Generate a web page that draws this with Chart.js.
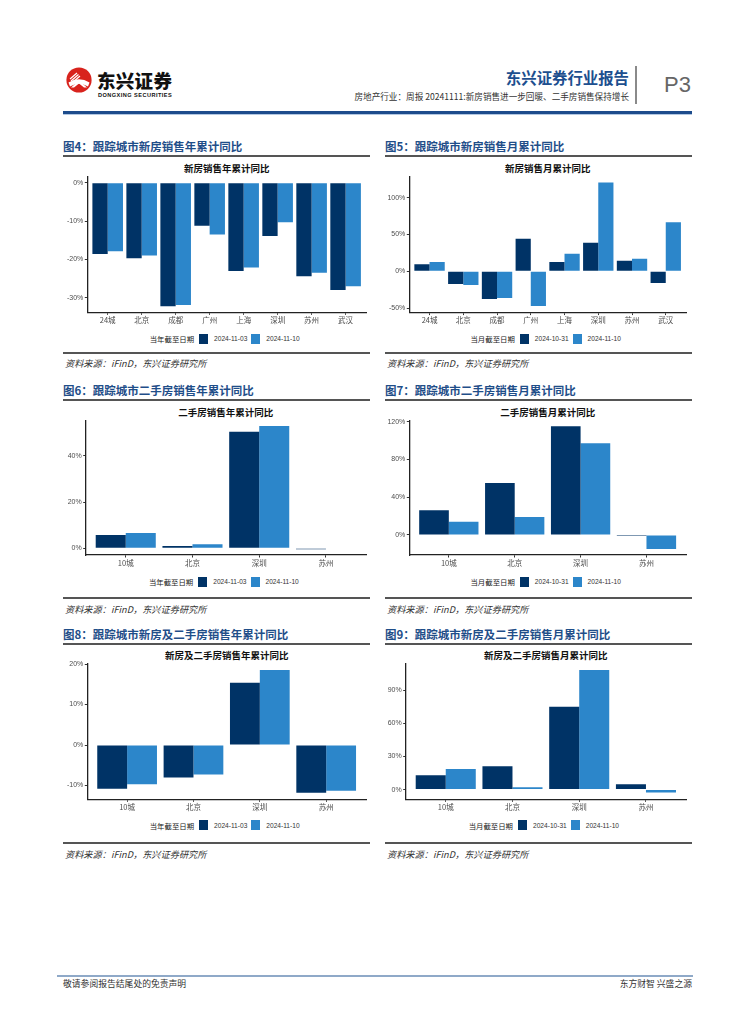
<!DOCTYPE html>
<html><head><meta charset="utf-8">
<script src="https://cdn.jsdelivr.net/npm/chart.js@4.4.1/dist/chart.umd.min.js"></script>
<style>
html,body{margin:0;padding:0;background:#fff}
body{width:755px;height:1024px;position:relative;overflow:hidden;font-family:"Noto Sans CJK SC","Noto Sans",sans-serif;color:#222}
.abs{position:absolute}
.figt{position:absolute;font-size:11.5px;font-weight:700;color:#1f4e89;white-space:nowrap;line-height:14px}
.rule{position:absolute;height:1.5px;background:#555}
.src{position:absolute;font-size:9.2px;font-style:italic;color:#333;white-space:nowrap;line-height:11px}
.ctitle{position:absolute;font-size:9.5px;font-weight:700;color:#111;white-space:nowrap;text-align:center;line-height:12px}
.legend{position:absolute;display:flex;justify-content:center;align-items:center;height:12px;white-space:nowrap}
.legend .lt{font-size:7.4px;color:#222;margin-right:5px}
.legend .bx{width:9px;height:10px;margin-right:6px}
.legend .lb{font-size:6.6px;color:#333;margin-right:4px;font-family:"Liberation Sans","DejaVu Sans",sans-serif}
.cwrap{position:absolute}
</style>
</head><body>

<!-- header -->
<svg class="abs" style="left:66px;top:67px" width="26" height="26" viewBox="0 0 26 26">
  <circle cx="13" cy="13" r="12.6" fill="#d8231d"/>
  <path d="M2.5 15.5 Q13 9 23.5 15.5 L22 19.5 Q13 14 4 19.5 Z" fill="#fff"/>
  <path d="M5 20.5 L13 13.5 L21 20.5 L18 20.5 L13 16.5 L8 20.5 Z" fill="#fff"/>
  <path d="M4 12 L11 6 M5 14 L12.5 7.5 M6.5 15.5 L14 9" stroke="#fff" stroke-width="1.2"/>
</svg>
<div class="abs" style="left:97px;top:69px;font-size:18.5px;font-weight:900;color:#111;letter-spacing:0.3px;line-height:22px">东兴证券</div>
<div class="abs" style="left:98px;top:91px;font-size:5.6px;font-weight:700;color:#111;letter-spacing:0.45px;font-family:'Liberation Sans','DejaVu Sans',sans-serif;line-height:8px">DONGXING SECURITIES</div>
<div class="abs" style="right:126px;top:67px;font-size:15.4px;font-weight:700;color:#1d4f8f;line-height:20px">东兴证券行业报告</div>
<div class="abs" style="right:126px;top:91px;font-size:8.6px;color:#333;line-height:11px;white-space:nowrap">房地产行业：周报 20241111:新房销售进一步回暖、二手房销售保持增长</div>
<div class="abs" style="left:635px;top:66px;width:1.6px;height:38px;background:#8a8a8a"></div>
<div class="abs" style="left:664px;top:72px;font-size:22px;color:#666;font-family:'Liberation Sans','DejaVu Sans',sans-serif;line-height:26px">P3</div>
<div class="abs" style="left:63px;top:111px;width:629px;height:3px;background:#1d4c8c"></div>
<div class="abs" style="left:63px;top:114px;width:629px;height:1px;background:#b3c8e2"></div>

<!-- footer -->
<div class="abs" style="left:57px;top:975px;width:636px;height:1.5px;background:#8fa9c8"></div>
<div class="abs" style="left:63px;top:978px;font-size:8.8px;color:#333;line-height:11px">敬请参阅报告结尾处的免责声明</div>
<div class="abs" style="right:63px;top:978px;font-size:8.8px;color:#333;line-height:11px">东方财智 兴盛之源</div>

<div id="root"></div>

<script>
// ---------------- DATA ----------------
const cities8 = ['24城','北京','成都','广州','上海','深圳','苏州','武汉'];
const cities4 = ['10城','北京','深圳','苏州'];
const yearDates = ['2024-11-03','2024-11-10'];
const monthDates = ['2024-10-31','2024-11-10'];

// 图4 新房销售年累计同比 (%)
const newYear1103 = [-18.6,-19.7,-32.2,-11.2,-23.0,-13.9,-24.4,-28.0];
const newYear1110 = [-17.9,-19.0,-31.9,-13.5,-22.1,-10.3,-23.5,-27.0];
// 图5 新房销售月累计同比 (%)
const newMonth1031 = [9.5,-17.2,-37.6,44.3,12.7,38.9,14.5,-15.8];
const newMonth1110 = [12.7,-18.6,-36.2,-47.1,24.0,120.4,17.2,66.5];
// 图6 二手房销售年累计同比 (%)
const secYear1103 = [5.8,1.0,50.5,-0.4];
const secYear1110 = [6.6,1.7,52.9,-0.2];
// 图7 二手房销售月累计同比 (%)
const secMonth1031 = [26.1,55.1,115.1,-1.1];
const secMonth1110 = [14.1,19.1,97.1,-14.8];
// 图8 新房及二手房销售年累计同比 (%)
const allYear1103 = [-10.8,-8.0,15.4,-11.8];
const allYear1110 = [-9.7,-7.3,18.5,-11.3];
// 图9 新房及二手房销售月累计同比 (%)
const allMonth1031 = [13.0,21.1,75.2,4.8];
const allMonth1110 = [18.7,2.1,108.5,-2.7];

// tick labels
const ticks4 = [-30,-20,-10,0];
const ticks5 = [-50,0,50,100];
const ticks6 = [0,20,40];
const ticks7 = [0,40,80,120];
const ticks8 = [-10,0,10,20];
const ticks9 = [0,30,60,90];

// ---------------- STYLE / LAYOUT ----------------
const DARK = '#003366';
const LIGHT = '#2c86ca';
const FONT = '"Noto Sans CJK SC","Noto Sans",sans-serif';

const panels = [
  {fig:'图4：跟踪城市新房销售年累计同比', title:'新房销售年累计同比', cats:cities8, a:newYear1103, b:newYear1110, dates:yearDates, lt:'当年截至日期', ticks:ticks4, ymin:-33.8, ymax:1.5,
   pL:63, pR:370, pl:87.3, pr:366, pt:176.7, pb:312, figY:146, topRule:156, titleY:168, legY:338.5, botRule:353, srcY:363.5},
  {fig:'图5：跟踪城市新房销售月累计同比', title:'新房销售月累计同比', cats:cities8, a:newMonth1031, b:newMonth1110, dates:monthDates, lt:'当月截至日期', ticks:ticks5, ymin:-56, ymax:128,
   pL:385, pR:692, pl:409.3, pr:686, pt:176.7, pb:312.3, figY:146, topRule:156, titleY:168, legY:338.5, botRule:353, srcY:363.5},
  {fig:'图6：跟踪城市二手房销售年累计同比', title:'二手房销售年累计同比', cats:cities4, a:secYear1103, b:secYear1110, dates:yearDates, lt:'当年截至日期', ticks:ticks6, ymin:-2.9, ymax:55.1,
   pL:63, pR:370, pl:85.7, pr:366, pt:421, pb:555, figY:390, topRule:400, titleY:411.7, legY:581.7, botRule:598, srcY:609},
  {fig:'图7：跟踪城市二手房销售月累计同比', title:'二手房销售月累计同比', cats:cities4, a:secMonth1031, b:secMonth1110, dates:monthDates, lt:'当月截至日期', ticks:ticks7, ymin:-21.2, ymax:120.6,
   pL:385, pR:692, pl:409.3, pr:686, pt:421, pb:555, figY:390, topRule:400, titleY:411.7, legY:581.7, botRule:598, srcY:609},
  {fig:'图8：跟踪城市新房及二手房销售年累计同比', title:'新房及二手房销售年累计同比', cats:cities4, a:allYear1103, b:allYear1110, dates:yearDates, lt:'当年截至日期', ticks:ticks8, ymin:-13.4, ymax:20,
   pL:63, pR:370, pl:87.3, pr:366, pt:664, pb:799.3, figY:634, topRule:644, titleY:655, legY:825, botRule:843, srcY:854},
  {fig:'图9：跟踪城市新房及二手房销售月累计同比', title:'新房及二手房销售月累计同比', cats:cities4, a:allMonth1031, b:allMonth1110, dates:monthDates, lt:'当月截至日期', ticks:ticks9, ymin:-8.8, ymax:113.9,
   pL:385, pR:692, pl:405.7, pr:686, pt:664, pb:799.3, figY:634, topRule:644, titleY:655, legY:825, botRule:843, srcY:854}
];

const root = document.getElementById('root');
function el(cls, css, text){
  const d=document.createElement('div'); if(cls) d.className=cls; d.style.cssText=css; if(text!=null) d.textContent=text; root.appendChild(d); return d;
}

panels.forEach((p, idx) => {
  el('figt', `left:${p.pL}px;top:${p.figY-7}px`, p.fig);
  el('rule', `left:${p.pL}px;top:${p.topRule-0.75}px;width:${p.pR-p.pL}px`);
  el('rule', `left:${p.pL}px;top:${p.botRule-0.75}px;width:${p.pR-p.pL}px`);
  el('src', `left:${p.pL+2}px;top:${p.srcY-5.5}px`, '资料来源：iFinD，东兴证券研究所');
  el('ctitle', `left:${p.pl}px;width:${p.pr-p.pl}px;top:${p.titleY-6}px`, p.title);

  const padTop = 8, xH = 18;
  const top = p.pt - padTop;
  const h = (p.pb - top) + xH;
  const w = p.pR - p.pL;
  const wrap = el('cwrap', `left:${p.pL}px;top:${top}px;width:${w}px;height:${h}px`);
  const cv = document.createElement('canvas'); wrap.appendChild(cv);
  const n = p.cats.length;
  const cats = p.cats;
  const tickVals = p.ticks;

  const chart = new Chart(cv, {
    type:'bar',
    data:{
      datasets:[
        {label:p.dates[0], data:p.a.map((v,i)=>({x:i,y:v})), backgroundColor:DARK, borderWidth:0, categoryPercentage:0.9, barPercentage:1},
        {label:p.dates[1], data:p.b.map((v,i)=>({x:i,y:v})), backgroundColor:LIGHT, borderWidth:0, categoryPercentage:0.9, barPercentage:1}
      ]
    },
    options:{
      responsive:true, maintainAspectRatio:false, animation:false,
      layout:{padding:{top:padTop,right:p.pR-p.pr,left:0,bottom:0}},
      plugins:{legend:{display:false}, tooltip:{enabled:false}, title:{display:false}},
      scales:{
        x:{type:'linear', min:-0.6, max:n-0.4, offset:false,
           afterBuildTicks:ax=>{ax.ticks=cats.map((c,i)=>({value:i}));},
           afterFit:s=>{s.height=xH;},
           grid:{display:true, drawOnChartArea:false, drawTicks:true, tickLength:2.5, color:'#333', offset:false, lineWidth:1},
           border:{display:true, color:'#222', width:1.3},
           ticks:{callback:v=>cats[v], font:{size:7.5, family:FONT}, color:'#4d4d4d', padding:1, maxRotation:0, autoSkip:false}
        },
        y:{type:'linear', min:p.ymin, max:p.ymax,
           afterBuildTicks:ax=>{ax.ticks=tickVals.map(v=>({value:v}));},
           afterFit:s=>{s.width=p.pl-p.pL;},
           grid:{display:true, drawOnChartArea:false, drawTicks:true, tickLength:2.5, color:'#333', lineWidth:1},
           border:{display:true, color:'#222', width:1.3},
           ticks:{callback:v=>v+'%', font:{size:7, family:'"Liberation Sans","DejaVu Sans",sans-serif'}, color:'#4d4d4d', padding:1.5, autoSkip:false}
        }
      }
    }
  });

  // legend built from the chart's datasets
  const lg = el('legend', `left:${p.pl}px;width:${p.pr-p.pl}px;top:${p.legY-6}px`);
  const t = document.createElement('span'); t.className='lt'; t.textContent=p.lt; lg.appendChild(t);
  chart.data.datasets.forEach(ds=>{
    const b=document.createElement('span'); b.className='bx'; b.style.background=ds.backgroundColor; lg.appendChild(b);
    const l=document.createElement('span'); l.className='lb'; l.textContent=ds.label; lg.appendChild(l);
  });
});
</script>
</body></html>
